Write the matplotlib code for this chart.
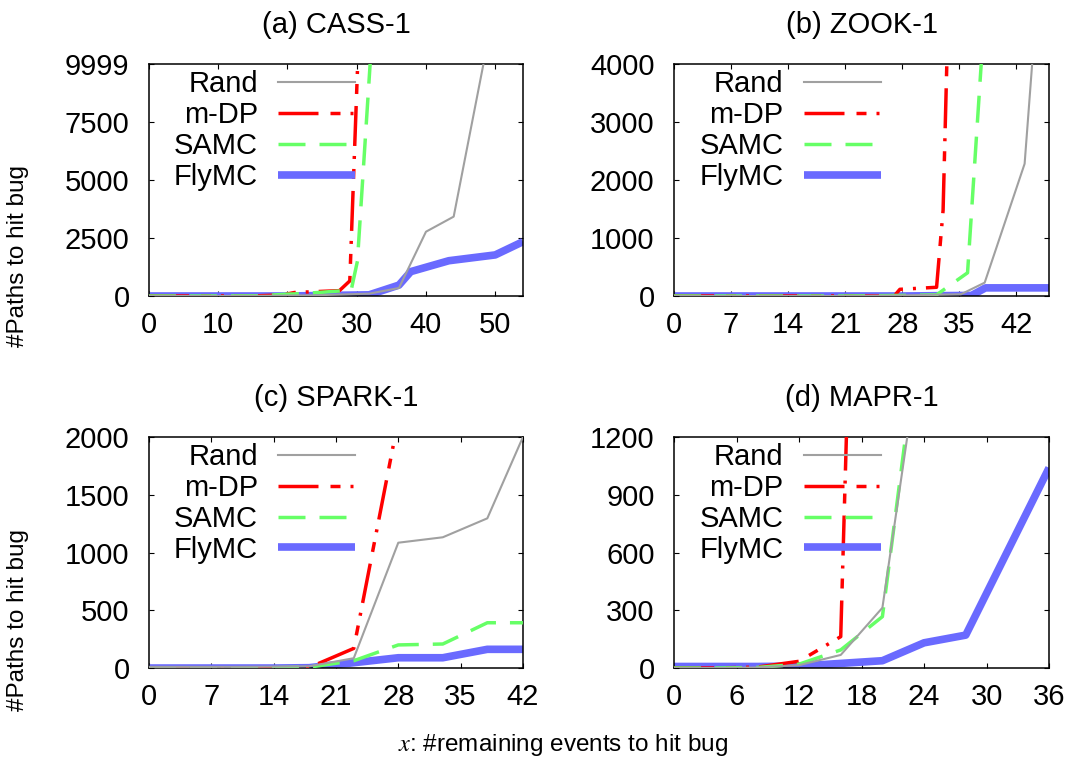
import numpy as np
import matplotlib as mpl
mpl.use('Agg')
import matplotlib.pyplot as plt

plt.rcParams.update({'font.family': ['Liberation Sans', 'DejaVu Sans'],
                     'font.size': 21,
                     'mathtext.fontset': 'stix',
                     'lines.scale_dashes': False})

# (a) CASS-1
a_rand_x = [0, 8, 16, 24, 31.8, 36.1, 40, 44, 50]
a_rand_y = [0, 0, 10, 30, 100, 345, 2770, 3420, 12600]
a_mdp_x = [0, 8, 16, 19.3, 21, 27.5, 29, 30.2]
a_mdp_y = [0, 0, 10, 50, 150, 230, 650, 10500]
a_samc_x = [0, 8, 16, 20, 22, 29.2, 30.1, 32]
a_samc_y = [0, 0, 10, 80, 100, 250, 1500, 10300]
a_fly_x = [0, 10, 20, 31.8, 36.1, 37.8, 43.3, 50, 54]
a_fly_y = [0, 0, 0, 50, 470, 1050, 1520, 1770, 2340]

# (b) ZOOK-1
b_rand_x = [0, 7, 14, 21, 28, 35.2, 38.1, 43, 45]
b_rand_y = [0, 0, 0, 0, 10, 30, 230, 2280, 6000]
b_mdp_x = [0, 7, 14, 21, 27, 27.7, 32.2, 33, 34]
b_mdp_y = [0, 0, 0, 0, 0, 115, 150, 1480, 7000]
b_samc_x = [0, 7, 14, 21, 28, 32.2, 36, 38]
b_samc_y = [0, 0, 0, 0, 10, 20, 400, 4700]
b_fly_x = [0, 7, 14, 21, 28, 36.5, 38.2, 46]
b_fly_y = [0, 0, 0, 0, 0, 10, 140, 140]

# (c) SPARK-1
c_x = [0, 4, 9, 14, 18, 23, 28, 33, 38, 42]
c_rand_y = [10, 10, 10, 12, 15, 85, 1085, 1132, 1296, 2000]
c_mdp_x = [0, 4, 9, 14, 18, 23, 28]
c_mdp_y = [0, 0, 0, 0, 5, 170, 2150]
c_samc_y = [0, 0, 0, 3, 8, 63, 200, 208, 392, 392]
c_fly_y = [0, 0, 0, 0, 3, 46, 89, 89, 162, 162]

# (d) MAPR-1
d_rand_x = [0, 4, 8, 12, 16, 20, 24]
d_rand_y = [0, 0, 3, 15, 68, 313, 1800]
d_mdp_x = [0, 4, 8, 12, 16, 20]
d_mdp_y = [0, 0, 5, 35, 163, 7800]
d_samc_x = [0, 4, 8, 12, 16, 20, 24]
d_samc_y = [0, 0, 3, 20, 94, 267, 1950]
d_fly_x = [0, 4, 8, 12, 16, 20, 24, 28, 36]
d_fly_y = [8, 8, 8, 10, 24, 38, 131, 171, 1040]

labels = ['Rand', 'm-DP', 'SAMC', 'FlyMC']
px = 0.72  # points per pixel at dpi 100
styles = [
    dict(color='#a0a0a0', lw=1.5, zorder=4),
    dict(color='#ff0000', lw=2.5, dashes=(40 * px, 12 * px, 10 * px, 10 * px, 3 * px, 10 * px), zorder=3),
    dict(color='#66ff66', lw=2.5, dashes=(27 * px, 14 * px), zorder=3),
    dict(color='#6a6aff', lw=5.5, solid_capstyle='butt', zorder=2),
]


def draw_panel(rect, title, series, xlim, xticks, ylim, yticks):
    ax = fig.add_axes(rect)
    lines = []
    for (x, y), lab, st in zip(series, labels, styles):
        ln, = ax.plot(x, y, label=lab, **st)
        lines.append(ln)
    ax.set_xlim(xlim)
    ax.set_ylim(ylim)
    ax.set_xticks(xticks)
    ax.set_yticks(yticks)
    ax.tick_params(direction='in', top=True, right=True, length=3.6, width=0.8)
    ax.tick_params(axis='y', pad=14)
    ax.tick_params(axis='x', pad=11)
    for sp in ax.spines.values():
        sp.set_linewidth(1.1)
    ax.set_title(title, fontsize=21, pad=22)
    ax.legend(handles=lines, loc='center right', bbox_to_anchor=(0.551, 0.713),
              frameon=False, markerfirst=False, borderpad=0, borderaxespad=0,
              handlelength=2.64, handletextpad=0.69, labelspacing=0.1, fontsize=21)
    return ax


fig = plt.figure(figsize=(10.74, 7.69), dpi=100)

draw_panel([0.1387, 0.6151, 0.3482, 0.3017], '(a) CASS-1',
           [(a_rand_x, a_rand_y), (a_mdp_x, a_mdp_y), (a_samc_x, a_samc_y), (a_fly_x, a_fly_y)],
           (0, 54), range(0, 51, 10), (0, 9999), [0, 2500, 5000, 7500, 9999])
draw_panel([0.6276, 0.6151, 0.3492, 0.3017], '(b) ZOOK-1',
           [(b_rand_x, b_rand_y), (b_mdp_x, b_mdp_y), (b_samc_x, b_samc_y), (b_fly_x, b_fly_y)],
           (0, 46), range(0, 43, 7), (0, 4000), range(0, 4001, 1000))
draw_panel([0.1387, 0.1313, 0.3482, 0.3004], '(c) SPARK-1',
           [(c_x, c_rand_y), (c_mdp_x, c_mdp_y), (c_x, c_samc_y), (c_x, c_fly_y)],
           (0, 42), range(0, 43, 7), (0, 2000), range(0, 2001, 500))
draw_panel([0.6276, 0.1313, 0.3492, 0.3004], '(d) MAPR-1',
           [(d_rand_x, d_rand_y), (d_mdp_x, d_mdp_y), (d_samc_x, d_samc_y), (d_fly_x, d_fly_y)],
           (0, 36), range(0, 37, 6), (0, 1200), range(0, 1201, 300))

fig.text(18 / 1074, 1 - 256 / 769, '#Paths to hit bug', rotation=90, fontsize=17.5,
         ha='center', va='center')
fig.text(18 / 1074, 1 - 620 / 769, '#Paths to hit bug', rotation=90, fontsize=17.5,
         ha='center', va='center')
fig.text(563 / 1074, 1 - 745 / 769, '$x$: #remaining events to hit bug', fontsize=17.5,
         ha='center', va='center')

fig.savefig('out.png', dpi=100)
